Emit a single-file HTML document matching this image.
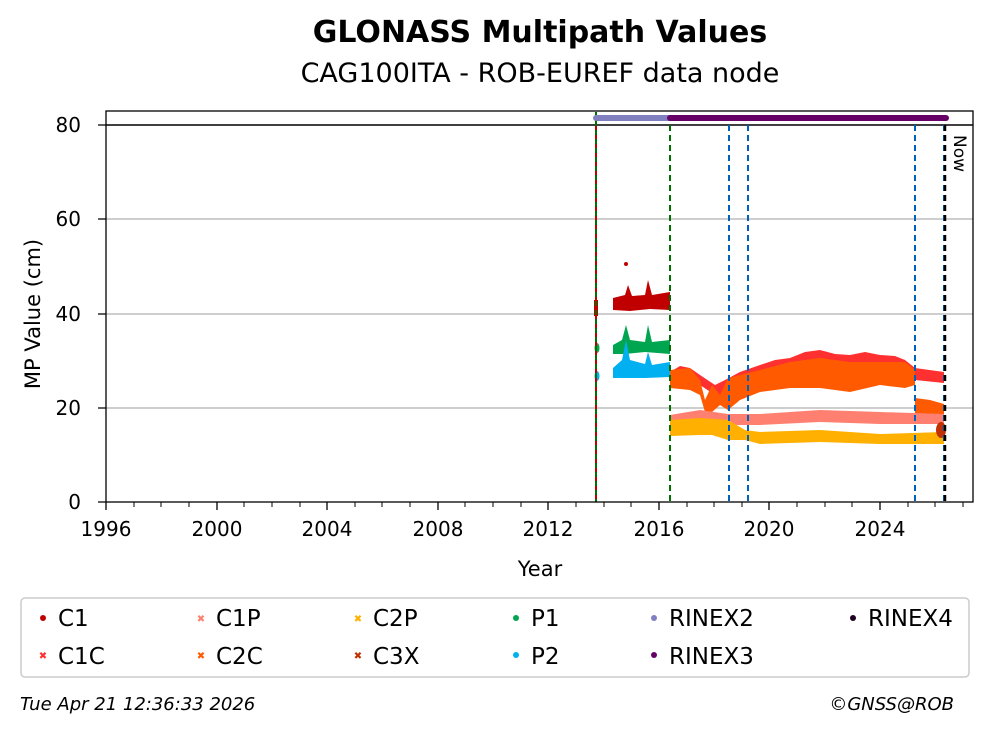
<!DOCTYPE html>
<html><head><meta charset="utf-8"><style>
body{margin:0;background:#fff}
svg text{font-family:"DejaVu Sans","Liberation Sans",sans-serif}
</style></head><body>
<svg width="992" height="734" viewBox="0 0 992 734" xmlns="http://www.w3.org/2000/svg">
<rect width="992" height="734" fill="#fff"/>
<text x="540" y="42" font-size="30" font-weight="bold" text-anchor="middle">GLONASS Multipath Values</text>
<text x="540" y="82" font-size="27" text-anchor="middle">CAG100ITA - ROB-EUREF data node</text>
<g stroke="#b0b0b0" stroke-width="1.3">
<line x1="106" y1="408" x2="973" y2="408"/>
<line x1="106" y1="314" x2="973" y2="314"/>
<line x1="106" y1="219" x2="973" y2="219"/>
</g>
<line x1="106" y1="125" x2="973" y2="125" stroke="#000" stroke-width="1.5"/>
<g stroke-linejoin="round">
<path d="M670,372 L680,366 690,368 700,375 715,385 725,380 740,372 760,365 775,360 790,358 805,352 820,350 835,354 850,355 865,352 880,355 895,356 905,360 915,368 944,372 944,383 915,380 905,375 880,375 850,378 820,375 790,380 760,385 740,390 725,400 715,395 700,385 690,388 670,385Z" fill="#ff3030"/>
<path d="M670,370 L690,368 700,380 705,400 712,385 720,395 728,378 740,375 760,370 790,362 820,358 850,362 880,362 905,362 915,370 915,385 905,388 880,385 850,392 820,388 790,388 760,392 740,400 728,410 720,405 712,412 705,412 700,395 690,390 670,388Z" fill="#ff5a00"/>
<path d="M915,398 L930,400 944,404 944,418 915,418Z" fill="#ff5a00"/>
<path d="M670,415 L700,410 728,414 760,414 820,410 880,412 944,414 944,424 880,424 820,422 760,425 728,425 700,422 670,424Z" fill="#ff8070"/>
<path d="M670,420 L700,418 728,420 745,430 760,432 820,430 880,434 944,432 944,444 880,444 820,442 760,444 745,440 728,440 712,435 700,435 670,436Z" fill="#ffb000"/>
<ellipse cx="941" cy="430" rx="5" ry="8" fill="#c03000"/>
<path d="M613,298 L625,295 628,285 632,296 645,295 648,280 652,295 670,292 670,310 650,309 630,311 613,310Z" fill="#c00000"/>
<path d="M594,300 L598,300 598,316 594,316Z" fill="#c00000"/>
<path d="M613,345 L622,340 626,325 630,340 645,342 648,325 652,342 670,340 670,354 645,352 625,354 613,354Z" fill="#00a550"/>
<path d="M613,368 L622,360 626,340 630,360 645,364 648,352 652,365 670,362 670,377 645,378 625,378 613,378Z" fill="#00b0f0"/>
<ellipse cx="597" cy="348" rx="2.5" ry="5" fill="#00a550"/>
<ellipse cx="597" cy="376" rx="2.5" ry="5" fill="#00b0f0"/>
<circle cx="626" cy="264" r="2" fill="#c00000"/>
</g>
<line x1="596" y1="112" x2="596" y2="502" stroke="#c00000" stroke-width="2"/>
<line x1="596" y1="112" x2="596" y2="502" stroke="#007000" stroke-width="2" stroke-dasharray="5,4"/>
<g stroke-width="2" stroke-dasharray="6,4">
<line x1="670" y1="125" x2="670" y2="502" stroke="#007000"/>
<line x1="729" y1="125" x2="729" y2="502" stroke="#0060c0"/>
<line x1="748" y1="125" x2="748" y2="502" stroke="#0060c0"/>
<line x1="915" y1="125" x2="915" y2="502" stroke="#0060c0"/>
<line x1="944" y1="125" x2="944" y2="502" stroke="#0060c0"/>
<line x1="945" y1="125" x2="945" y2="502" stroke="#000" stroke-width="2.5"/>
</g>
<line x1="596" y1="118" x2="670" y2="118" stroke="#8080c0" stroke-width="6" stroke-linecap="round"/>
<line x1="670" y1="118" x2="946" y2="118" stroke="#660066" stroke-width="6" stroke-linecap="round"/>
<text x="954" y="135" font-size="17" transform="rotate(90 954 135)">Now</text>
<rect x="106" y="111" width="867" height="391" fill="none" stroke="#000" stroke-width="1.3"/>
<g stroke="#000" stroke-width="1.3">
<path d="M106,502v8M217,502v8M327,502v8M438,502v8M548,502v8M659,502v8M769,502v8M880,502v8"/>
<path d="M98,502h8M98,408h8M98,314h8M98,219h8M98,125h8"/>
</g>
<g stroke="#000" stroke-width="1">
<path d="M134,502v5M161,502v5M189,502v5M244,502v5M272,502v5M300,502v5M355,502v5M382,502v5M410,502v5M465,502v5M493,502v5M521,502v5M576,502v5M604,502v5M631,502v5M687,502v5M714,502v5M742,502v5M797,502v5M825,502v5M852,502v5M908,502v5M935,502v5M963,502v5"/>
</g>
<g font-size="20" text-anchor="middle">
<text x="106" y="536">1996</text><text x="217" y="536">2000</text><text x="327" y="536">2004</text>
<text x="438" y="536">2008</text><text x="548" y="536">2012</text><text x="659" y="536">2016</text>
<text x="769" y="536">2020</text><text x="880" y="536">2024</text>
</g>
<g font-size="20" text-anchor="end">
<text x="81" y="509">0</text><text x="81" y="415">20</text><text x="81" y="321">40</text>
<text x="81" y="226">60</text><text x="81" y="132">80</text>
</g>
<text x="540" y="576" font-size="21" text-anchor="middle">Year</text>
<text x="40" y="314" font-size="21" text-anchor="middle" transform="rotate(-90 40 314)">MP Value (cm)</text>
<rect x="21" y="598" width="948" height="79" rx="4" fill="#fff" stroke="#ccc" stroke-width="1.5"/>
<g font-size="23">
<circle cx="43" cy="618" r="3" fill="#c00000"/><text x="58" y="626">C1</text>
<text x="43" y="659" font-size="10" fill="#ff3030" text-anchor="middle">✖</text><text x="58" y="664">C1C</text>
<text x="201" y="622" font-size="10" fill="#ff8070" text-anchor="middle">✖</text><text x="216" y="626">C1P</text>
<text x="201" y="659" font-size="10" fill="#ff5a00" text-anchor="middle">✖</text><text x="216" y="664">C2C</text>
<text x="358" y="622" font-size="10" fill="#ffb000" text-anchor="middle">✖</text><text x="373" y="626">C2P</text>
<text x="358" y="659" font-size="10" fill="#c03000" text-anchor="middle">✖</text><text x="373" y="664">C3X</text>
<circle cx="516" cy="618" r="3" fill="#00a550"/><text x="531" y="626">P1</text>
<circle cx="516" cy="655" r="3" fill="#00b0f0"/><text x="531" y="664">P2</text>
<circle cx="654" cy="618" r="3" fill="#8080c0"/><text x="669" y="626">RINEX2</text>
<circle cx="654" cy="655" r="3" fill="#660066"/><text x="669" y="664">RINEX3</text>
<circle cx="853" cy="618" r="3" fill="#200020"/><text x="868" y="626">RINEX4</text>
</g>
<text x="20" y="710" font-size="18" font-style="italic">Tue Apr 21 12:36:33 2026</text>
<text x="954" y="710" font-size="18" font-style="italic" text-anchor="end">©GNSS@ROB</text>
</svg>
</body></html>
